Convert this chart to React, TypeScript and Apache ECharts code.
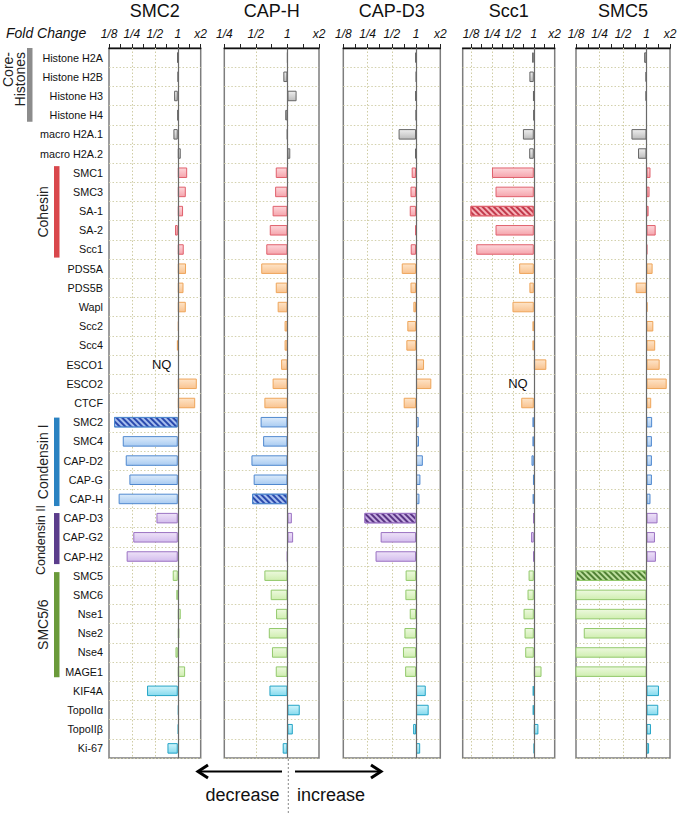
import React, { useEffect, useRef } from 'react';
import * as echarts from 'echarts';

const FONT = '"Liberation Sans", Arial, Helvetica, sans-serif';

const rows = [
  'Histone H2A', 'Histone H2B', 'Histone H3', 'Histone H4', 'macro H2A.1', 'macro H2A.2',
  'SMC1', 'SMC3', 'SA-1', 'SA-2', 'Scc1',
  'PDS5A', 'PDS5B', 'Wapl', 'Scc2', 'Scc4', 'ESCO1', 'ESCO2', 'CTCF',
  'SMC2', 'SMC4', 'CAP-D2', 'CAP-G', 'CAP-H',
  'CAP-D3', 'CAP-G2', 'CAP-H2',
  'SMC5', 'SMC6', 'Nse1', 'Nse2', 'Nse4', 'MAGE1',
  'KIF4A', 'TopoIIα', 'TopoIIβ', 'Ki-67',
];

const rowGroups = [
  'histone', 'histone', 'histone', 'histone', 'histone', 'histone',
  'cohesin', 'cohesin', 'cohesin', 'cohesin', 'cohesin',
  'regulator', 'regulator', 'regulator', 'regulator', 'regulator', 'regulator', 'regulator', 'regulator',
  'condensinI', 'condensinI', 'condensinI', 'condensinI', 'condensinI',
  'condensinII', 'condensinII', 'condensinII',
  'smc56', 'smc56', 'smc56', 'smc56', 'smc56', 'smc56',
  'other', 'other', 'other', 'other',
];

const panelTitles = ['SMC2', 'CAP-H', 'CAP-D3', 'Scc1', 'SMC5'];

// log2 fold change; null = NQ
const smc2KD = [-0.02, 0.02, -0.16, 0, -0.19, 0.13, 0.41, 0.35, 0.23, -0.12, 0.26, 0.36, 0.25, 0.35, 0.05, -0.03, null, 0.83, 0.76, -2.78, -2.40, -2.27, -2.11, -2.58, -0.93, -1.94, -2.23, -0.22, -0.06, 0.13, 0.07, -0.10, 0.32, -1.34, 0.05, 0.04, -0.45];
const capHKD = [0, -0.13, 0.29, -0.07, -0.01, 0.09, -0.37, -0.39, -0.47, -0.56, -0.67, -0.83, -0.37, -0.31, -0.09, -0.09, -0.20, -0.47, -0.73, -0.85, -0.77, -1.14, -1.07, -1.12, 0.14, 0.18, -0.01, -0.73, -0.53, -0.36, -0.59, -0.49, -0.37, -0.57, 0.39, 0.17, -0.15];
const capD3KD = [-0.03, 0.01, -0.03, 0, -0.72, -0.04, -0.18, -0.23, -0.26, -0.03, -0.22, -0.59, -0.23, -0.11, -0.36, -0.40, 0.33, 0.63, -0.51, 0.11, 0.12, 0.28, 0.18, 0.14, -2.13, -1.46, -1.67, -0.43, -0.44, -0.26, -0.48, -0.54, -0.45, 0.40, 0.52, -0.12, 0.17];
const scc1KD = [-0.08, -0.21, -0.03, 0, -0.52, -0.22, -2.0, -1.83, -3.03, -1.83, -2.75, -0.70, -0.21, -1.02, -0.06, -0.06, 0.60, null, -0.60, -0.06, -0.06, -0.11, -0.03, -0.05, -0.01, -0.13, -0.02, -0.25, -0.30, -0.49, -0.44, -0.41, 0.37, -0.05, -0.05, 0.22, 0.03];
const smc5KD = [-0.10, -0.04, -0.04, 0, -0.64, -0.36, 0.17, 0.13, 0.09, 0.39, 0.03, 0.26, -0.46, 0.04, 0.29, 0.37, 0.56, 0.86, 0.20, 0.24, 0.23, 0.23, 0.23, 0.17, 0.47, 0.36, 0.40, -3.0, -3.3, -3.3, -2.67, -3.3, -3.3, 0.53, 0.50, 0.19, 0.11];

const panelValues = [smc2KD, capHKD, capD3KD, scc1KD, smc5KD];
const hatchedRows = ['SMC2', 'CAP-H', 'CAP-D3', 'SA-1', 'SMC5'];
const tickLabels: Record<string, string> = { '-3': '1/8', '-2': '1/4', '-1': '1/2', '0': '1', '1': 'x2' };

const groupStyles: Record<string, any> = {
  histone: { top: '#eeeeee', bottom: '#bcbcbc', border: '#666666' },
  cohesin: { top: '#fdd6da', bottom: '#f5a4ac', border: '#e0606c', hatchBase: '#f6b3b9', hatch: '#c23a4c' },
  regulator: { top: '#fee4c8', bottom: '#f9c390', border: '#eea55a' },
  condensinI: { top: '#dcebfb', bottom: '#a9cbf1', border: '#4f88cf', hatchBase: '#a7bfee', hatch: '#2b4aae' },
  condensinII: { top: '#eee2f8', bottom: '#d3bced', border: '#9a72c2', hatchBase: '#c7aee2', hatch: '#5a3585' },
  smc56: { top: '#edf9de', bottom: '#cfeeb0', border: '#93c96c', hatchBase: '#bfe0a0', hatch: '#4f8033' },
  other: { top: '#cff4fb', bottom: '#86daee', border: '#24a4c6' },
};

const sideGroups = [
  { lines: ['Core-', 'Histones'], from: 0, to: 3, color: '#8c8c8c', barX: 27, insetTop: 0, insetBottom: 3 },
  { lines: ['Cohesin'], from: 6, to: 10, color: '#d9474c', barX: 54, insetTop: 3, insetBottom: 1.5 },
  { lines: ['Condensin I'], from: 19, to: 23, color: '#2a82c2', barX: 54, insetTop: 5, insetBottom: 2.5 },
  { lines: ['Condensin II'], from: 24, to: 26, color: '#5b3d8c', barX: 54, insetTop: 4.5, insetBottom: 2 },
  { lines: ['SMC5/6'], from: 27, to: 32, color: '#6a9a3a', barX: 54, insetTop: 6, insetBottom: 4 },
];

const GRID_TOP = 48;
const GRID_H = 710;
const panels = [
  { left: 109, width: 91.7, min: -3 },
  { left: 224.3, width: 94.7, min: -2 },
  { left: 343.3, width: 97, min: -3 },
  { left: 462.7, width: 92, min: -3.4 },
  { left: 576, width: 94, min: -3 },
];
const nqPos = [-0.7, null, null, -0.76, null];

function grad(top: string, bottom: string) {
  return new echarts.graphic.LinearGradient(0, 0, 0, 1, [
    { offset: 0, color: top },
    { offset: 1, color: bottom },
  ]);
}

function buildOption() {
  const rowH = GRID_H / rows.length;
  const series: any[] = [];
  panels.forEach((p, pi) => {
    const vals = panelValues[pi];
    series.push({
      type: 'line', xAxisIndex: pi, yAxisIndex: pi, data: [], silent: true, z: 1,
      markLine: {
        silent: true, symbol: ['none', 'none'], z: 1, label: { show: false },
        lineStyle: { color: '#cfcca4', type: [1.5, 2], width: 1 },
        data: [-3, -2, -1].filter(v => v > p.min).map(v => ({ xAxis: v })),
      },
    });
    series.push({
      type: 'bar', xAxisIndex: pi, yAxisIndex: pi, barWidth: 10.5, z: 2, clip: true,
      data: vals.map((v, ri) => {
        if (v === null) return '-';
        const g = groupStyles[rowGroups[ri]];
        const hatch = hatchedRows[pi] === rows[ri];
        if (hatch) {
          return {
            value: v,
            itemStyle: {
              color: g.hatchBase, borderColor: g.border, borderWidth: 1,
              decal: { symbol: 'rect', symbolSize: 1, color: g.hatch, dashArrayX: [1, 0], dashArrayY: [1.1, 1.1], rotation: Math.PI / 4 },
            },
          };
        }
        return { value: v, itemStyle: { color: grad(g.top, g.bottom), borderColor: g.border, borderWidth: 1 } };
      }),
    });
    series.push({
      type: 'line', xAxisIndex: pi, yAxisIndex: pi, data: [], silent: true, z: 3,
      markLine: {
        silent: true, symbol: ['none', 'none'], z: 3, label: { show: false },
        lineStyle: { color: '#6a6a6a', type: 'solid', width: 1.2 },
        data: [{ xAxis: 0 }],
      },
    });
    const nq = nqPos[pi];
    if (nq !== null) {
      const ri = vals.indexOf(null);
      series.push({
        type: 'scatter', xAxisIndex: pi, yAxisIndex: pi, symbol: 'circle', symbolSize: 1, silent: true, z: 4,
        itemStyle: { color: 'rgba(0,0,0,0)', opacity: 1 },
        label: {
          show: true, position: 'inside', formatter: 'NQ', fontSize: 13, color: '#111',
          textBorderWidth: 0, opacity: 1, fontFamily: FONT,
        },
        data: [[nq, ri]],
      });
    }
  });

  const graphic: any[] = [];
  panels.forEach((p, pi) => {
    graphic.push({
      type: 'text', x: p.left + p.width / 2, y: 11,
      style: { text: panelTitles[pi], fontSize: 18, fontFamily: FONT, fill: '#111', textAlign: 'center', textVerticalAlign: 'middle' },
    });
  });
  graphic.push({
    type: 'text', x: 6, y: 33,
    style: { text: 'Fold Change', fontSize: 14, fontStyle: 'italic', fontFamily: FONT, fill: '#111', textAlign: 'left', textVerticalAlign: 'middle' },
  });
  sideGroups.forEach(g => {
    const y0 = GRID_TOP + g.from * rowH + g.insetTop;
    const y1 = GRID_TOP + (g.to + 1) * rowH - g.insetBottom;
    graphic.push({ type: 'rect', shape: { x: g.barX, y: y0, width: 5.5, height: y1 - y0 }, style: { fill: g.color } });
    if (g.lines.length === 2) {
      graphic.push({ type: 'text', x: 7.5, y: 52, rotation: Math.PI / 2, style: { text: g.lines[0], fontSize: 14, fontFamily: FONT, fill: '#222', textAlign: 'right', textVerticalAlign: 'middle' } });
      graphic.push({ type: 'text', x: 20, y: 52, rotation: Math.PI / 2, style: { text: g.lines[1], fontSize: 14, fontFamily: FONT, fill: '#222', textAlign: 'right', textVerticalAlign: 'middle' } });
    } else {
      const isII = g.lines[0] === 'Condensin II';
      graphic.push({
        type: 'text', x: isII ? 41 : 43, y: isII ? 540 : (y0 + y1) / 2, rotation: Math.PI / 2,
        style: { text: g.lines[0], fontSize: isII ? 12.5 : 14, fontFamily: FONT, fill: '#222', textAlign: 'center', textVerticalAlign: 'middle' },
      });
    }
  });
  // bottom annotation
  const arrowY = 771.5;
  graphic.push({ type: 'line', shape: { x1: 199, y1: arrowY, x2: 282, y2: arrowY }, style: { stroke: '#000', lineWidth: 1.8 } });
  graphic.push({ type: 'polyline', shape: { points: [[208, arrowY - 6.5], [198, arrowY], [208, arrowY + 6.5]] }, style: { stroke: '#000', lineWidth: 3, fill: null } });
  graphic.push({ type: 'line', shape: { x1: 295, y1: arrowY, x2: 380, y2: arrowY }, style: { stroke: '#000', lineWidth: 1.8 } });
  graphic.push({ type: 'polyline', shape: { points: [[371, arrowY - 6.5], [381, arrowY], [371, arrowY + 6.5]] }, style: { stroke: '#000', lineWidth: 3, fill: null } });
  graphic.push({ type: 'line', shape: { x1: 288.3, y1: 759, x2: 288.3, y2: 815 }, style: { stroke: '#888', lineWidth: 1, lineDash: [2, 2] } });
  graphic.push({ type: 'text', x: 242.5, y: 795, style: { text: 'decrease', fontSize: 18, fontFamily: FONT, fill: '#111', textAlign: 'center', textVerticalAlign: 'middle' } });
  graphic.push({ type: 'text', x: 331, y: 795, style: { text: 'increase', fontSize: 18, fontFamily: FONT, fill: '#111', textAlign: 'center', textVerticalAlign: 'middle' } });

  return {
    animation: false,
    textStyle: { fontFamily: FONT },
    grid: panels.map(p => ({
      left: p.left, top: GRID_TOP, width: p.width, height: GRID_H, show: true,
      borderColor: '#7d7d7d', borderWidth: 1.5, backgroundColor: '#fff',
    })),
    xAxis: panels.map((p, pi) => {
      const ticks: number[] = [];
      for (let v = Math.ceil(p.min * 2) / 2; v <= 1.0001; v += 0.5) ticks.push(v);
      const labels = ticks.filter(v => Number.isInteger(v));
      return {
        type: 'value', gridIndex: pi, position: 'top', min: p.min, max: 1,
        axisLine: { show: true, onZero: false, lineStyle: { color: '#111', width: 1.4 } },
        axisTick: { show: true, customValues: ticks, length: 4, lineStyle: { color: '#222', width: 1 } },
        axisLabel: {
          customValues: labels, showMinLabel: true, showMaxLabel: true, hideOverlap: false,
          formatter: (v: number) => tickLabels[String(Math.round(v))] ?? '',
          fontStyle: 'italic', fontSize: 12, color: '#111', margin: 8,
        },
        splitLine: { show: false },
      };
    }),
    yAxis: panels.map((p, pi) => ({
      type: 'category', gridIndex: pi, inverse: true, data: rows,
      axisLine: { show: false }, axisTick: { show: false, interval: 0 },
      axisLabel: { show: pi === 0, interval: 0, fontSize: 10.8, color: '#111', margin: 6 },
      splitLine: { show: true, interval: 0, lineStyle: { color: '#d3d1ad', type: [1.5, 2], width: 1 } },
    })),
    series,
    graphic,
  };
}

export default function App() {
  const ref = useRef<HTMLDivElement>(null);
  useEffect(() => {
    document.body.style.margin = '0';
    if (!ref.current) return;
    const chart = echarts.init(ref.current, null, { renderer: 'svg' });
    chart.setOption(buildOption() as any);
    return () => chart.dispose();
  }, []);
  return <div ref={ref} style={{ width: 680, height: 815 }} />;
}
